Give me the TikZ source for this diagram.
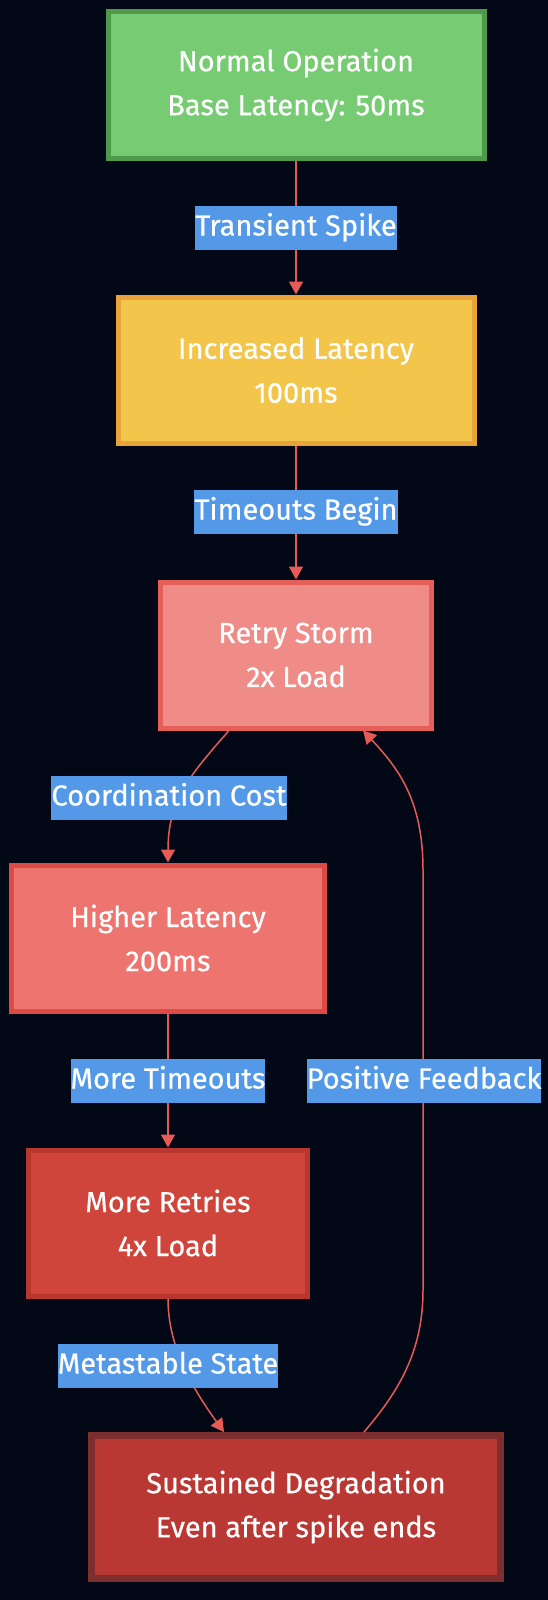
\documentclass[tikz,border=0pt]{standalone}
\usepackage{fontspec}
\setmainfont{Fira Sans}[FakeBold=0.5]
\usetikzlibrary{arrows.meta,calc}

\definecolor{bgnavy}{HTML}{030816}
\definecolor{okgreen}{HTML}{77CB72}
\definecolor{okgreenb}{HTML}{4E9A4A}
\definecolor{warnyel}{HTML}{F3C64B}
\definecolor{warnyelb}{HTML}{E8A43A}
\definecolor{retrypink}{HTML}{F08C88}
\definecolor{retrypinkb}{HTML}{E35F57}
\definecolor{highred}{HTML}{EE7470}
\definecolor{highredb}{HTML}{DE4A45}
\definecolor{morered}{HTML}{CF443B}
\definecolor{moreredb}{HTML}{B7362F}
\definecolor{sustred}{HTML}{BA3833}
\definecolor{sustredb}{HTML}{7D2F2F}
\definecolor{lblblue}{HTML}{5399E8}
\definecolor{edgered}{HTML}{E55B55}

\begin{document}
\begin{tikzpicture}[x=1pt, y=-1pt,
    box/.style={draw, rectangle, line width=5pt, text=white, align=center,
      font=\fontsize{29}{44}\selectfont, minimum height=146pt},
    lbl/.style={fill=lblblue, text=white, inner xsep=0pt, inner ysep=0pt,
      minimum height=44pt, text height=21pt, text depth=6pt,
      font=\fontsize{29}{35}\selectfont},
    flow/.style={draw=edgered, line width=1.5pt, -{Triangle[length=13pt,width=14pt]}}]
        \useasboundingbox (0,0) rectangle (548,1600);
        \fill[bgnavy] (0,0) rectangle (548,1600);

        % States
        \node[box, fill=okgreen, draw=okgreenb, minimum width=376pt] (normal) at (296,85) {Normal Operation\\Base Latency: 50ms};
        \node[box, fill=warnyel, draw=warnyelb, minimum width=356pt] (incr) at (296,370) {Increased Latency\\100ms};
        \node[box, fill=retrypink, draw=retrypinkb, minimum width=271pt] (retry) at (296,655) {Retry Storm\\2x Load};
        \node[box, fill=highred, draw=highredb, minimum width=313pt] (higher) at (168,938) {Higher Latency\\200ms};
        \node[box, fill=morered, draw=moreredb, minimum width=279pt] (more) at (168,1223) {More Retries\\4x Load};
        \node[box, fill=sustred, draw=sustredb, line width=7pt, minimum width=409pt, minimum height=143pt] (sustained) at (296,1507) {Sustained Degradation\\Even after spike ends};

        % Connections
        \draw[flow] (normal) -- (incr);
        \draw[flow] (incr) -- (retry);
        \draw[flow] ($(retry.south)+(-67,0)$) .. controls (190,775) and (168,800) .. (higher.north);
        \draw[flow] (higher) -- (more);
        \draw[flow] (more.south) .. controls (168,1345) and (190,1385) .. ($(sustained.north)+(-72,0)$);
        \draw[flow] ($(sustained.north)+(68,0)$) .. controls (400,1390) and (423,1350) .. (423,1290)
            -- (423,870) .. controls (423,800) and (398,768) .. ($(retry.south)+(67,0)$);

        % Labels
        \node[lbl] (tspike) at (296,228) {Transient Spike};
        \node[lbl] (tbegin) at (296,512) {Timeouts Begin};
        \node[lbl] (coord) at (169,798) {Coordination Cost};
        \node[lbl] (mtime) at (168,1081) {More Timeouts};
        \node[lbl] (posfb) at (424,1081) {Positive Feedback};
        \node[lbl] (meta) at (168,1366) {Metastable State};
\end{tikzpicture}
\end{document}
